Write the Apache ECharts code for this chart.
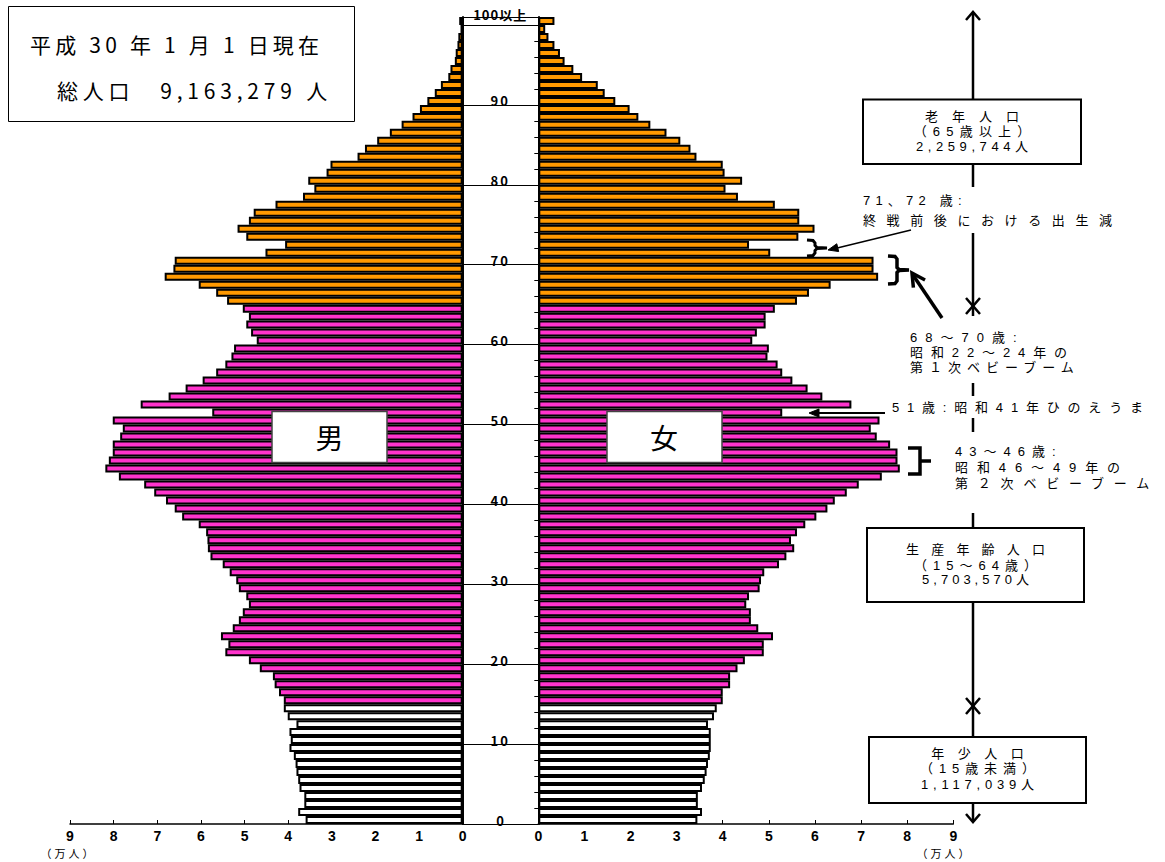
<!DOCTYPE html>
<html><head><meta charset="utf-8">
<script src="https://cdn.jsdelivr.net/npm/echarts@6/dist/echarts.min.js"></script>
<style>html,body{margin:0;padding:0;background:#fff}#c{width:1165px;height:862px}</style>
</head><body><div id="c"></div>
<script>
// ---- data (万人) ----
const ageLabels = ['0','1','2','3','4','5','6','7','8','9','10','11','12','13','14','15','16','17','18','19',
 '20','21','22','23','24','25','26','27','28','29','30','31','32','33','34','35','36','37','38','39',
 '40','41','42','43','44','45','46','47','48','49','50','51','52','53','54','55','56','57','58','59',
 '60','61','62','63','64','65','66','67','68','69','70','71','72','73','74','75','76','77','78','79',
 '80','81','82','83','84','85','86','87','88','89','90','91','92','93','94','95','96','97','98','99','100以上'];

const male = [3.60,3.77,3.63,3.63,3.74,3.77,3.81,3.83,3.87,3.97,
 3.94,3.97,3.81,4.01,4.10,4.10,4.21,4.31,4.35,4.65,
 4.90,5.44,5.37,5.54,5.27,5.13,5.04,4.90,4.96,5.13,
 5.19,5.34,5.50,5.78,5.84,5.85,5.88,6.05,6.43,6.60,
 6.80,7.07,7.30,7.88,8.19,8.11,8.02,8.02,7.85,7.79,
 8.02,5.74,7.38,6.74,6.35,5.96,5.65,5.44,5.30,5.24,
 4.72,4.85,4.96,4.90,5.04,5.40,5.65,6.05,6.83,6.63,
 6.60,4.52,4.07,4.96,5.16,4.90,4.79,4.29,3.66,3.40,
 3.54,3.12,3.03,2.41,2.24,1.96,1.67,1.40,1.15,0.98,
 0.81,0.64,0.50,0.33,0.28,0.18,0.16,0.12,0.10,0.05,0.08];

const female = [3.45,3.55,3.46,3.46,3.55,3.61,3.65,3.68,3.72,3.74,
 3.74,3.74,3.68,3.81,3.87,4.00,4.00,4.16,4.16,4.32,
 4.48,4.89,4.89,5.09,4.77,4.61,4.61,4.51,4.57,4.80,
 4.83,4.90,5.22,5.38,5.55,5.48,5.61,5.79,6.03,6.27,
 6.43,6.69,6.95,7.45,7.84,7.79,7.79,7.63,7.34,7.21,
 7.40,5.29,6.79,6.16,5.84,5.51,5.29,5.19,4.97,5.00,
 4.64,4.74,4.93,4.93,5.13,5.61,5.87,6.34,7.37,7.27,
 7.27,5.03,4.57,5.64,5.99,5.66,5.66,5.13,4.33,4.06,
 4.42,4.04,4.00,3.43,3.30,3.08,2.78,2.43,2.17,1.98,
 1.67,1.44,1.29,0.95,0.76,0.57,0.47,0.35,0.22,0.15,0.35];

const groupStart = [0, 15, 65];              // 年少 / 生産年齢 / 老年
const groupColors = ['#FFFFFF', '#FF33CC', '#FF9900'];
const axisMax = 9;

// ---- styles ----
const FONT = '"Noto Sans CJK JP","Noto Sans",sans-serif';
const NFONT = '"Liberation Sans","Noto Sans CJK JP",sans-serif';
function colorFor(i) {
  let c = groupColors[0];
  for (let g = 0; g < groupStart.length; g++) if (i >= groupStart[g]) c = groupColors[g];
  return c;
}
const barStyle = { borderColor: '#000', borderWidth: 2, color: p => colorFor(p.dataIndex) };

// letter spacing applied to SVG text after render
const LS = {
  '平成 30 年 1 月 1 日現在': 4.2, '総人口　9,163,279 人': 4.8,
  '老年人口': 14, '（65歳以上）': 6.2, '2,259,744人': 4.6,
  '生産年齢人口': 12.2, '（15〜64歳）': 6, '5,703,570人': 4,
  '年少人口': 13.5, '（15歳未満）': 5.9, '1,117,039人': 4.8,
  '71、72 歳:': 5.2, '終戦前後における出生減': 10.6,
  '68〜70歳:': 8, '昭和22〜24年の': 7.9, '第１次ベビーブーム': 6,
  '51歳:昭和41年ひのえうま': 7.8,
  '43〜46歳:': 7, '昭和46〜49年の': 8.9, '第２次ベビーブーム': 9.8,
  '（万人）': 3,
  '10': 2, '20': 2, '30': 2, '40': 2, '50': 2, '60': 2, '70': 2, '80': 2, '90': 2, '100以上': 1
};

// ---- annotation graphics ----
const G = [];
function T(text, x, y, size, align, fam) {
  align = align || 'left';
  if (align === 'center' && LS[text]) x += LS[text] / 2;
  G.push({ type: 'text', z: 100, style: {
    text: text, x: x, y: y, font: 'normal ' + size + 'px ' + (fam || FONT), fill: '#000',
    align: align, textAlign: align, verticalAlign: 'middle', textVerticalAlign: 'middle' } });
}
function R(x, y, w, h, lw, stroke) {
  G.push({ type: 'rect', z: 99, shape: { x: x, y: y, width: w, height: h },
    style: { fill: '#fff', stroke: stroke || '#000', lineWidth: lw } });
}
function L(pts, lw) {
  G.push({ type: 'polyline', z: 100, shape: { points: pts },
    style: { stroke: '#000', lineWidth: lw, fill: null, lineJoin: 'miter' } });
}
function head(x1, y1, x2, y2, hl, hw, filled, lw) {
  const len = Math.hypot(x2 - x1, y2 - y1), dx = (x2 - x1) / len, dy = (y2 - y1) / len;
  const bx = x2 - dx * hl, by = y2 - dy * hl, nx = -dy, ny = dx;
  const pts = [[bx + nx * hw, by + ny * hw], [x2, y2], [bx - nx * hw, by - ny * hw]];
  if (filled) G.push({ type: 'polygon', z: 100, shape: { points: pts }, style: { fill: '#000', stroke: '#000', lineWidth: 1 } });
  else L(pts, lw);
}
function brace(x0, x1, x2, y0, y1, lw) {
  const ym = (y0 + y1) / 2;
  L([[x0, y0], [x1 - 2, y0 + 0.5], [x1, y0 + 3], [x1, ym - 2.5], [x1 + 2, ym - 0.5], [x2, ym],
     [x1 + 2, ym + 0.5], [x1, ym + 2.5], [x1, y1 - 3], [x1 - 2, y1 - 0.5], [x0, y1]], lw);
}

// top-left info box
R(8.5, 6.5, 346, 115, 1, '#000');
T('平成 30 年 1 月 1 日現在', 30, 44, 21);
T('総人口　9,163,279 人', 57, 90, 21);

// gender boxes
R(272, 411.5, 115, 51, 1.5, '#444'); T('男', 329.5, 437, 28, 'center');
R(607, 411.5, 115, 51, 1.5, '#444'); T('女', 664, 437, 28, 'center');

// right-hand age-group scale
const VX = 973, VW = 2.5;
[[12, 99], [164, 187], [233, 306], [306, 316], [383, 396], [418, 432], [513, 528], [602, 706], [706, 737], [803, 822]]
  .forEach(s => L([[VX, s[0]], [VX, s[1]]], VW));
L([[VX - 7, 20], [VX, 12], [VX + 7, 20]], VW);
L([[VX - 7, 298], [VX, 306], [VX + 7, 298]], VW);
L([[VX - 7, 314], [VX, 306], [VX + 7, 314]], VW);
L([[VX - 7, 698], [VX, 706], [VX + 7, 698]], VW);
L([[VX - 7, 714], [VX, 706], [VX + 7, 714]], VW);
L([[VX - 7, 814], [VX, 822], [VX + 7, 814]], VW);

const BF = 13;
R(863, 99.5, 218, 64.5, 2);
T('老年人口', 972, 116, BF, 'center', NFONT); T('（65歳以上）', 972, 131.5, BF, 'center', NFONT); T('2,259,744人', 972, 146, BF, 'center', NFONT);
R(867, 528, 217, 74, 2);
T('生産年齢人口', 975.5, 549.5, BF, 'center', NFONT); T('（15〜64歳）', 975.5, 565, BF, 'center', NFONT); T('5,703,570人', 975.5, 579.5, BF, 'center', NFONT);
R(869, 737, 217, 66, 2);
T('年少人口', 977.5, 753, BF, 'center', NFONT); T('（15歳未満）', 977.5, 768.5, BF, 'center', NFONT); T('1,117,039人', 977.5, 784, BF, 'center', NFONT);

// notes
T('71、72 歳:', 863, 200, BF, 'left', NFONT);
T('終戦前後における出生減', 863, 220, BF, 'left', NFONT);
L([[911, 230], [831, 249.5]], 1.5); head(911, 230, 828, 250, 10, 4, true);
brace(807, 815, 827, 240, 256, 3);

brace(888, 897, 909, 256, 284, 3.5);
L([[942, 318], [913, 275]], 3.5); head(942, 318, 912, 273, 13, 7, false, 3.5);
T('68〜70歳:', 910, 337, BF, 'left', NFONT);
T('昭和22〜24年の', 910, 352, BF, 'left', NFONT);
T('第１次ベビーブーム', 910, 367.5, BF, 'left', NFONT);

L([[885, 413], [812, 413]], 2); head(885, 413, 809, 413, 10, 4, true);
T('51歳:昭和41年ひのえうま', 892, 407, BF, 'left', NFONT);

L([[908, 448], [920, 448], [920, 474], [908, 474]], 3.5); L([[920, 461], [931, 461]], 3.5);
T('43〜46歳:', 955, 451.5, BF, 'left', NFONT);
T('昭和46〜49年の', 955, 467.5, BF, 'left', NFONT);
T('第２次ベビーブーム', 955, 483.5, BF, 'left', NFONT);

// units
T('（万人）', 67, 854, 11, 'center', NFONT);
T('（万人）', 943, 854, 11, 'center', NFONT);

// ---- chart ----
const xAxisBase = {
  type: 'value', min: 0, max: axisMax, interval: 1,
  axisLine: { show: true, onZero: false, lineStyle: { color: '#000', width: 1.5 } },
  axisTick: { show: true, inside: true, length: 4, lineStyle: { color: '#000', width: 1 } },
  splitLine: { show: false },
  axisLabel: { color: '#000', fontSize: 14, fontWeight: 'bold', fontFamily: '"Liberation Sans",sans-serif', margin: 5 }
};
const option = {
  animation: false,
  backgroundColor: '#fff',
  grid: [
    { left: 70, top: 17, width: 392.7, height: 807, outerBoundsMode: 'none', containLabel: false },
    { left: 538.3, top: 17, width: 415, height: 807, outerBoundsMode: 'none', containLabel: false }
  ],
  xAxis: [
    Object.assign({}, xAxisBase, { gridIndex: 0, inverse: true }),
    Object.assign({}, xAxisBase, { gridIndex: 1 })
  ],
  yAxis: [
    { gridIndex: 0, type: 'category', data: ageLabels, position: 'right',
      axisLine: { show: true, onZero: false, lineStyle: { color: '#000', width: 2 } },
      axisTick: { show: true, length: 4, lineStyle: { color: '#000', width: 1 } },
      axisLabel: { interval: i => i % 10 === 0, formatter: (v, i) => (i === 100 ? v + '\n' : v),
        align: 'center', margin: 37.5, color: '#000', fontSize: 13, fontWeight: 'bold', fontFamily: FONT } },
    { gridIndex: 1, type: 'category', data: ageLabels, position: 'left',
      axisLine: { show: true, onZero: false, lineStyle: { color: '#000', width: 2 } },
      axisTick: { show: true, length: 4, lineStyle: { color: '#000', width: 1 } },
      axisLabel: { show: false } },
    { gridIndex: 1, type: 'category', data: ageLabels, position: 'left', offset: 0,
      axisLine: { show: false },
      axisTick: { show: true, length: 76, interval: i => i % 10 === 0, lineStyle: { color: '#000', width: 1.2 } },
      axisLabel: { show: false } }
  ],
  series: [
    { name: '男', type: 'bar', xAxisIndex: 0, yAxisIndex: 0, data: male, barCategoryGap: '0%', itemStyle: barStyle },
    { name: '女', type: 'bar', xAxisIndex: 1, yAxisIndex: 1, data: female, barCategoryGap: '0%', itemStyle: barStyle }
  ],
  graphic: G
};

const dom = document.getElementById('c');
const chart = echarts.init(dom, null, { renderer: 'svg', width: 1165, height: 862 });
chart.setOption(option);
function applySpacing() {
  dom.querySelectorAll('text').forEach(t => {
    const s = t.textContent;
    if (LS[s] != null) { t.setAttribute('letter-spacing', LS[s] + 'px'); t.style.letterSpacing = LS[s] + 'px'; }
  });
}
chart.on('finished', applySpacing);
applySpacing();
setTimeout(applySpacing, 50);
setTimeout(applySpacing, 300);
</script>
</body></html>
